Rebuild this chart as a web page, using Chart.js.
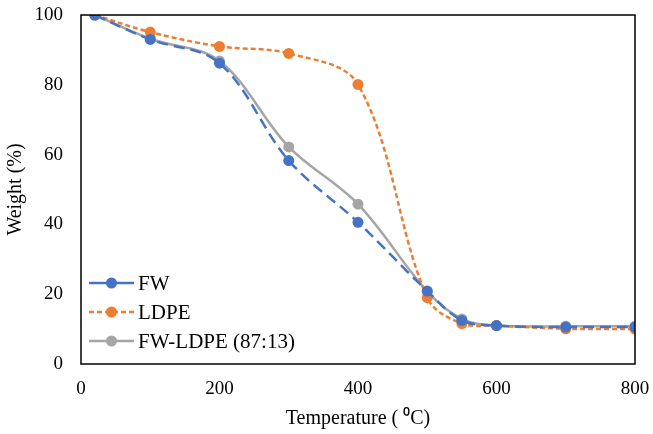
<!DOCTYPE html>
<html>
<head>
<meta charset="utf-8">
<script src="https://cdn.jsdelivr.net/npm/chart.js@4"></script>
<style>
  html, body { margin: 0; padding: 0; background: #fff; }
  #wrap { width: 653px; height: 434px; position: relative; }
</style>
</head>
<body>
<div id="wrap"><canvas id="tgaChart"></canvas></div>
<script>
// Temperature (°C) and weight (%) readings
const temperatures = [20, 100, 200, 300, 400, 500, 550, 600, 700, 800];
const fwWeight = [100, 93, 86.2, 58.3, 40.6, 20.9, 12.5, 11, 10.6, 10.6];
const ldpeWeight = [100, 95.1, 91, 89, 80.1, 19, 11.6, 11, 10.1, 10];
const blendWeight = [100, 93.2, 86.8, 62.2, 45.8, 20.8, 12.9, 11, 10.8, 10.8];
const xTicks = [0, 200, 400, 600, 800];
const yTicks = [0, 20, 40, 60, 80, 100];

const serif = "'Liberation Serif', 'Times New Roman', serif";

function toPoints(ys) {
    return temperatures.map((t, i) => ({ x: t, y: ys[i] }));
}

// Frame around the plot area + Excel-style legend with line and marker
const framePlugin = {
    id: 'frame',
    afterDraw(chart) {
        const { ctx, chartArea: a } = chart;
        ctx.save();
        ctx.strokeStyle = '#000';
        ctx.lineWidth = 1.5;
        ctx.strokeRect(a.left, a.top, a.right - a.left, a.bottom - a.top);

        // legend
        const items = chart.data.datasets;
        const x0 = a.left + 8, lineLen = 45;
        let y = a.bottom - 81;
        ctx.font = '21px ' + serif;
        ctx.textBaseline = 'middle';
        items.forEach(ds => {
            ctx.strokeStyle = ds.borderColor;
            ctx.lineWidth = 2.5;
            ctx.setLineDash(ds.legendDash || []);
            ctx.beginPath();
            ctx.moveTo(x0, y);
            ctx.lineTo(x0 + lineLen, y);
            ctx.stroke();
            ctx.setLineDash([]);
            ctx.fillStyle = ds.pointBackgroundColor;
            ctx.beginPath();
            ctx.arc(x0 + lineLen / 2, y, 5.5, 0, Math.PI * 2);
            ctx.fill();
            ctx.fillStyle = '#000';
            ctx.fillText(ds.label, x0 + lineLen + 4, y + 1);
            y += 29;
        });
        ctx.restore();
    }
};

const ctx = document.getElementById('tgaChart').getContext('2d');

new Chart(ctx, {
    type: 'line',
    data: {
        datasets: [
            {
                label: 'FW',
                data: toPoints(fwWeight),
                borderColor: '#4472C4',
                pointBackgroundColor: '#4472C4',
                borderDash: [11, 6],
                legendDash: [],
                borderWidth: 2.5,
                pointRadius: 5.5,
                pointBorderWidth: 0,
                tension: 0.35
            },
            {
                label: 'LDPE',
                data: toPoints(ldpeWeight),
                borderColor: '#ED7D31',
                pointBackgroundColor: '#ED7D31',
                borderDash: [5, 3],
                legendDash: [5, 3],
                borderWidth: 2.5,
                pointRadius: 5.5,
                pointBorderWidth: 0,
                tension: 0.35
            },
            {
                label: 'FW-LDPE (87:13)',
                data: toPoints(blendWeight),
                borderColor: '#A5A5A5',
                pointBackgroundColor: '#A5A5A5',
                legendDash: [],
                borderWidth: 2.5,
                pointRadius: 5.5,
                pointBorderWidth: 0,
                tension: 0.35
            }
        ]
    },
    options: {
        responsive: true,
        maintainAspectRatio: false,
        animation: false,
        layout: {
            padding: { top: 15, right: 18, left: 2, bottom: 0 }
        },
        plugins: {
            legend: { display: false },
            tooltip: { enabled: false }
        },
        scales: {
            x: {
                type: 'linear',
                min: 0,
                max: 800,
                afterBuildTicks: axis => { axis.ticks = xTicks.map(v => ({ value: v })); },
                afterFit: scale => {
                    scale.height = 70;
                    scale.paddingLeft = 0;
                    scale.paddingRight = 0;
                },
                grid: { display: false, drawTicks: false },
                border: { display: false },
                ticks: {
                    color: '#000',
                    padding: 14,
                    font: { family: serif, size: 19 }
                },
                title: {
                    display: true,
                    text: 'Temperature ( \u2070C)',
                    color: '#000',
                    padding: { top: 4, bottom: 3 },
                    font: { family: serif, size: 20 }
                }
            },
            y: {
                min: 0,
                max: 100,
                afterBuildTicks: axis => { axis.ticks = yTicks.map(v => ({ value: v })); },
                afterFit: scale => {
                    scale.width = 79;
                    scale.paddingTop = 0;
                    scale.paddingBottom = 0;
                },
                grid: { display: false, drawTicks: false },
                border: { display: false },
                ticks: {
                    color: '#000',
                    padding: 18,
                    font: { family: serif, size: 19 }
                },
                title: {
                    display: true,
                    text: 'Weight (%)',
                    color: '#000',
                    padding: { top: 2, bottom: 6 },
                    font: { family: serif, size: 20 }
                }
            }
        }
    },
    plugins: [framePlugin]
});
</script>
</body>
</html>
